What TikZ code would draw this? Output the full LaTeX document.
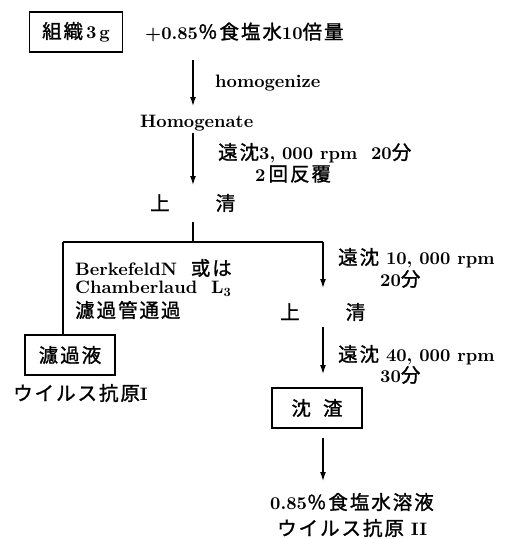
\documentclass[tikz,border=0pt]{standalone}
\usepackage{fontspec}
\setmainfont{lmroman10-regular.otf}[BoldFont=lmroman10-bold.otf]
\newfontfamily\cjk{Noto Sans CJK JP}[LetterSpace=10, FakeBold=1.3]
\usetikzlibrary{arrows.meta}
\newcommand\J[1]{{\cjk\mdseries\fontsize{19.5}{23}\selectfont #1}}
\tikzset{
  txt/.style={inner sep=0pt, anchor=west, font=\fontsize{18}{22}\selectfont\bfseries},
  boxnode/.style={draw, line width=1.3pt, inner sep=0pt, minimum width=90pt, minimum height=40pt, font=\fontsize{18}{22}\selectfont\bfseries},
  arr/.style={line width=1.3pt, -{Latex[length=9pt,width=6pt]}},
  ln/.style={line width=1.3pt}
}
\begin{document}
\begin{tikzpicture}[x=1pt,y=-1pt]
\useasboundingbox (0,0) rectangle (507,539);
% row 1
\node[boxnode, minimum width=93pt] (tissue) at (76,32) {\J{組織}\,3\,g};
\node[txt] (salt) at (145,32) {+0.85\J{％食塩水}10\J{倍量}};
\coordinate (a1s) at (193,60);
\coordinate (a1e) at (193,106);
\draw[arr] (a1s) -- (a1e);
\node[txt] (homoz) at (215,83) {homogenize};
\node[txt] (homog) at (140,123) {Homogenate};
\coordinate (a2s) at (193,133);
\coordinate (a2e) at (193,185);
\draw[arr] (a2s) -- (a2e);
\node[txt] (cen1a) at (218,153) {\J{遠沈}3, 000 rpm\ \ 20\J{分}};
\node[txt] (cen1b) at (255,174) {2\,\J{回反覆}};
\node[txt] (sup1) at (150,203) {\J{上}\hspace{46pt}\J{清}};
% branch
\coordinate (b0) at (193,222);
\coordinate (b1) at (193,242);
\coordinate (bl) at (63,242);
\coordinate (br) at (323,242);
\coordinate (brE) at (323,288);
\draw[ln] (b0) -- (b1);
\draw[ln] (bl) -- (br);
\node[boxnode] (filt) at (70,355) {\J{濾過液}};
\draw[ln] (bl) -- (bl |- filt.north);
\draw[arr] (br) -- (brE);
\node[txt] (berk) at (75,268) {BerkefeldN\ \ \J{或は}};
\node[txt] (cham) at (75,289) {Chamberlaud\ \ L$_{\mathbf 3}$};
\node[txt] (tube) at (75,310) {\J{濾過管通過}};
\node[txt] (cen2a) at (338,258) {\J{遠沈}\ 10, 000 rpm};
\node[txt] (cen2b) at (380,279) {20\J{分}};
\node[txt] (sup2) at (280,312) {\J{上}\hspace{46pt}\J{清}};
\coordinate (a4s) at (323,327);
\coordinate (a4e) at (323,374);
\draw[arr] (a4s) -- (a4e);
\node[txt] (cen3a) at (338,355) {\J{遠沈}\ 40, 000 rpm};
\node[txt] (cen3b) at (380,375) {30\J{分}};
\node[txt] (vir1) at (13,393) {\J{ウイルス抗原}I};
\node[boxnode] (sed) at (317,408) {\J{沈\hspace{12pt}渣}};
\coordinate (a5e) at (323,481);
\draw[arr] (sed.south -| a5e) ++(0,9) -- (a5e);
\node[txt] (salt2) at (270,502) {0.85\J{％食塩水溶液}};
\node[txt] (vir2) at (277,528) {\J{ウイルス抗原}\ II};
\end{tikzpicture}
\end{document}
